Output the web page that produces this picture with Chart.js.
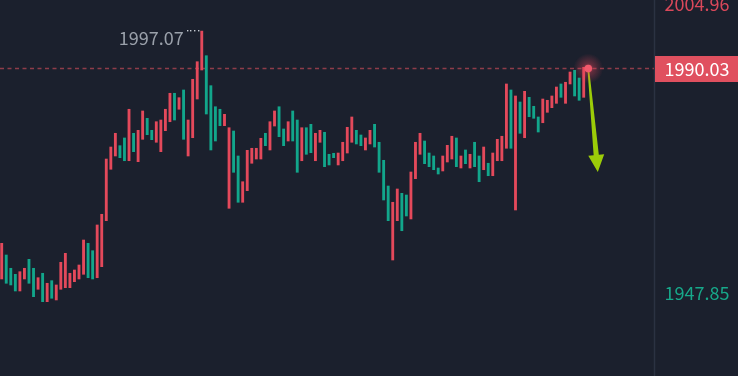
<!DOCTYPE html>
<html>
<head>
<meta charset="utf-8">
<script src="https://cdn.jsdelivr.net/npm/chart.js@4.4.1/dist/chart.umd.min.js"></script>
<style>
  html, body { margin: 0; padding: 0; background: #1b202d; }
  #wrap { width: 738px; height: 376px; position: relative; }
</style>
</head>
<body>
<div id="wrap"><canvas id="c" width="738" height="376"></canvas></div>
<script>
// ---- data ----
const opens = [
  1950.43,1954.94,1952.44,1951.31,1948.17,1950.43,1954.13,1952.44,1948.49,1951.50,
  1946.16,1950.11,1946.48,1948.49,1948.79,1948.79,1949.92,1950.43,1951.31,1957.14,
  1955.75,1950.67,1952.74,1961.40,1971.07,1973.57,1975.51,1976.96,1972.68,1977.84,
  1972.50,1976.71,1980.66,1978.40,1976.15,1974.38,1978.33,1980.02,1985.37,1982.36,
  1985.99,1973.57,1977.01,1984.29,1989.75,1992.44,1986.80,1982.84,1982.36,1979.27,
  1963.73,1978.27,1973.57,1964.86,1967.04,1972.20,1973.00,1973.00,1977.84,1974.70,
  1979.21,1982.84,1978.65,1976.39,1982.04,1980.34,1972.68,1978.89,1979.53,1972.68,
  1976.15,1978.03,1973.89,1974.08,1971.88,1972.68,1974.13,1976.15,1978.40,1977.52,
  1974.70,1975.83,1979.53,1976.15,1972.76,1967.92,1954.00,1961.40,1966.55,1966.23,
  1961.72,1969.30,1973.89,1976.39,1974.13,1973.57,1971.31,1970.75,1972.44,1973.00,
  1976.96,1971.31,1974.70,1971.31,1976.15,1973.57,1970.99,1972.20,1969.86,1972.68,
  1972.68,1975.02,1985.99,1963.41,1983.73,1977.01,1984.61,1982.92,1980.91,1979.83,
  1981.79,1982.66,1983.48,1987.12,1983.48,1987.12,1989.69,1988.24,1984.61,1989.40
];
const closes = [
  1957.14,1949.62,1949.30,1948.17,1951.80,1952.44,1949.62,1947.10,1950.67,1946.16,
  1949.62,1946.80,1949.30,1953.57,1955.26,1951.50,1952.12,1953.06,1957.76,1950.67,
  1950.43,1960.59,1962.60,1973.00,1975.26,1977.84,1973.25,1972.68,1982.36,1974.38,
  1978.40,1982.04,1977.58,1976.64,1980.02,1980.34,1982.36,1985.37,1980.34,1984.54,
  1976.71,1980.34,1988.00,1991.31,1997.07,1981.47,1974.70,1976.39,1979.27,1981.41,
  1978.89,1970.50,1964.86,1968.73,1974.64,1975.02,1975.02,1976.90,1975.51,1980.02,
  1982.04,1977.20,1975.51,1980.02,1976.39,1970.50,1978.89,1973.89,1974.19,1977.84,
  1978.40,1971.56,1971.88,1973.25,1974.13,1976.15,1978.97,1980.91,1975.83,1975.51,
  1976.96,1978.40,1975.26,1970.50,1965.29,1961.40,1964.86,1967.36,1959.51,1962.28,
  1970.56,1976.15,1977.84,1972.12,1971.56,1970.99,1970.18,1973.57,1975.58,1977.28,
  1971.56,1973.57,1972.12,1973.89,1971.56,1968.73,1975.26,1969.86,1974.13,1976.71,
  1977.28,1987.12,1975.02,1984.86,1977.84,1985.74,1980.96,1980.66,1978.08,1984.29,
  1984.05,1984.86,1986.55,1984.61,1987.44,1989.37,1984.86,1984.05,1990.26,1990.03
];
const priceLabels = { top: '2004.96', current: '1990.03', bottom: '1947.85' };
const highLabel = '1997.07';
const arrowTarget = { index: 131.1, value: 1970.56 };

const RED = '#e4495b';
const GREEN = '#12a68b';

const bars = opens.map((o, i) => ({ x: i, y: [Math.min(o, closes[i]), Math.max(o, closes[i])] }));
const colors = opens.map((o, i) => closes[i] >= o ? RED : GREEN);

const FONT = '"Noto Sans CJK SC", "Noto Sans", sans-serif';

const overlay = {
  id: 'overlay',
  beforeDatasetsDraw(chart) {
    const { ctx, chartArea, scales: { y } } = chart;
    const py = y.getPixelForValue(parseFloat(priceLabels.current));
    ctx.save();
    // right axis line
    ctx.strokeStyle = '#2b3242';
    ctx.lineWidth = 1.5;
    ctx.beginPath();
    ctx.moveTo(chartArea.right + 0.5, 0);
    ctx.lineTo(chartArea.right + 0.5, chart.height);
    ctx.stroke();
    // current price dashed line
    ctx.strokeStyle = '#8e3c4a';
    ctx.lineWidth = 1.5;
    ctx.setLineDash([4, 3.5]);
    ctx.beginPath();
    ctx.moveTo(chartArea.left, py);
    ctx.lineTo(chartArea.right, py);
    ctx.stroke();
    ctx.restore();
  },
  afterDatasetsDraw(chart) {
    const { ctx, chartArea, scales: { x, y } } = chart;
    const n = closes.length;
    ctx.save();
    // high annotation
    let hi = -1, hv = -Infinity;
    opens.forEach((o, i) => { const v = Math.max(o, closes[i]); if (v > hv) { hv = v; hi = i; } });
    const hx = x.getPixelForValue(hi), hy = y.getPixelForValue(hv);
    ctx.font = '18px ' + FONT;
    ctx.fillStyle = '#9aa0aa';
    ctx.textAlign = 'right';
    ctx.textBaseline = 'alphabetic';
    ctx.fillText(highLabel, hx - 18, hy + 13.5);
    ctx.fillStyle = '#c4c8d0';
    for (let k = 0; k < 4; k++) {
      ctx.fillRect(Math.round(hx - 15 + k * 3.6), Math.round(hy - 1), 1.4, 1.4);
    }
    // arrow
    const ax = x.getPixelForValue(n - 1), ay = y.getPixelForValue(closes[n - 1]);
    const tx = x.getPixelForValue(arrowTarget.index), ty = y.getPixelForValue(arrowTarget.value);
    const dx = tx - ax, dy = ty - ay, len = Math.hypot(dx, dy);
    const ux = dx / len, uy = dy / len, nx = -uy, ny = ux;
    const headLen = 17, headW = 8;
    const bx = tx - ux * headLen, by = ty - uy * headLen;
    ctx.fillStyle = '#9ccc08';
    ctx.beginPath();
    ctx.moveTo(ax + nx * 0.8, ay + ny * 0.8);
    ctx.lineTo(bx + nx * 2.6, by + ny * 2.6);
    ctx.lineTo(bx + nx * headW, by + ny * headW);
    ctx.lineTo(tx, ty);
    ctx.lineTo(bx - nx * headW, by - ny * headW);
    ctx.lineTo(bx - nx * 2.6, by - ny * 2.6);
    ctx.lineTo(ax - nx * 0.8, ay - ny * 0.8);
    ctx.closePath();
    ctx.fill();
    // glowing dot
    const g = ctx.createRadialGradient(ax, ay, 0, ax, ay, 15);
    g.addColorStop(0, 'rgba(255,90,105,0.8)');
    g.addColorStop(0.35, 'rgba(230,70,90,0.35)');
    g.addColorStop(1, 'rgba(230,70,90,0)');
    ctx.fillStyle = g;
    ctx.beginPath(); ctx.arc(ax, ay, 15, 0, Math.PI * 2); ctx.fill();
    ctx.fillStyle = '#f25a6c';
    ctx.beginPath(); ctx.arc(ax, ay, 3.8, 0, Math.PI * 2); ctx.fill();
    // right labels
    const right = chart.width;
    const midX = (chartArea.right + right) / 2 + 1;
    const cy = y.getPixelForValue(parseFloat(priceLabels.current));
    ctx.fillStyle = '#e0505f';
    ctx.fillRect(chartArea.right + 1, Math.round(cy - 13), right - chartArea.right, 26);
    ctx.fillStyle = '#ffffff';
    ctx.textAlign = 'center';
    ctx.textBaseline = 'middle';
    ctx.font = '18px ' + FONT;
    ctx.fillText(priceLabels.current, midX, cy + 1);
    ctx.fillStyle = '#d9485a';
    ctx.fillText(priceLabels.top, midX, chartArea.top + 4);
    ctx.fillStyle = '#17a88a';
    ctx.fillText(priceLabels.bottom, midX, y.getPixelForValue(parseFloat(priceLabels.bottom)));
    ctx.restore();
  }
};

new Chart(document.getElementById('c'), {
  type: 'bar',
  data: {
    datasets: [{
      data: bars,
      backgroundColor: colors,
      borderWidth: 0,
      barThickness: 2.2,
      grouped: false
    }]
  },
  options: {
    responsive: false,
    animation: false,
    events: [],
    layout: { padding: { left: 0, top: 0, bottom: 0, right: 84 } },
    plugins: { legend: { display: false }, tooltip: { enabled: false } },
    scales: {
      x: { type: 'linear', min: -0.374, max: 143.46, display: false, offset: false },
      y: { type: 'linear', min: 1932.175, max: 2002.92, display: false }
    }
  },
  plugins: [overlay]
});
</script>
</body>
</html>
